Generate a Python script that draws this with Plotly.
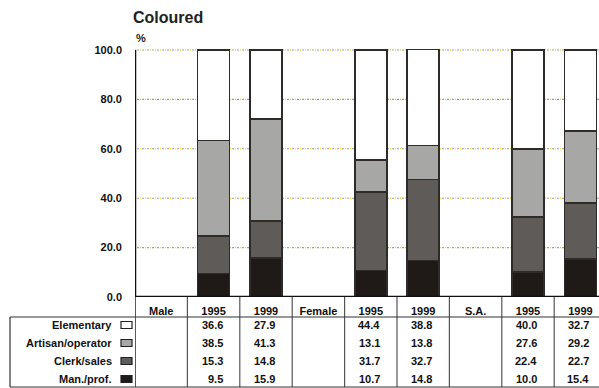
import plotly.graph_objects as go

# ---------------- data ----------------
categories = ["Male", "1995", "1999", "Female", "1995", "1999", "S.A.", "1995", "1999"]
bar_positions = [1, 2, 4, 5, 7, 8]          # category slots that hold a bar
series_names = ["Elementary", "Artisan/operator", "Clerk/sales", "Man./prof."]
elementary = [36.6, 27.9, 44.4, 38.8, 40.0, 32.7]
artisan = [38.5, 41.3, 13.1, 13.8, 27.6, 29.2]
clerk = [15.3, 14.8, 31.7, 32.7, 22.4, 22.7]
manprof = [9.5, 15.9, 10.7, 14.8, 10.0, 15.4]
y_ticks = [0, 20, 40, 60, 80, 100]
y_ticktext = ["0.0", "20.0", "40.0", "60.0", "80.0", "100.0"]

series_values = [elementary, artisan, clerk, manprof]
series_colors = ["#FFFFFF", "#A7A7A5", "#5F5B59", "#1F1A17"]

FONT = "Liberation Sans, Arial, sans-serif"
EDGE = "#2E2B29"

# ---------------- geometry helpers (pixels -> paper) ----------------
W, H = 599, 388
ML, MR, MT, MB = 135, 0, 45, 91
PW = W - ML - MR
PH = H - MT - MB
BOTTOM = H - MB


def px(xpix):
    return (xpix - ML) / PW


def py(ypix):
    return (BOTTOM - ypix) / PH


fig = go.Figure()

# stacked bars, bottom series first
for name, vals, col in reversed(list(zip(series_names, series_values, series_colors))):
    fig.add_trace(go.Bar(
        x=bar_positions, y=vals, name=name, width=0.61,
        marker=dict(color=col, line=dict(color=EDGE, width=1.6)),
        showlegend=False, hoverinfo="skip",
    ))

x_right = -0.5 + PW / 52.4

shapes = []
# grid lines (yellow dots + gray dashes), drawn beneath bars
for v in y_ticks[1:]:
    shapes.append(dict(type="line", xref="x", yref="y", x0=-0.5, x1=x_right, y0=v, y1=v,
                       layer="below", line=dict(color="#F2D400", width=1.2, dash="1px,4px")))
    shapes.append(dict(type="line", xref="x", yref="y", x0=-0.5, x1=x_right, y0=v, y1=v,
                       layer="below", line=dict(color="#A0A0A0", width=1.1, dash="0px,2px,2px,1px")))

# axes
shapes.append(dict(type="line", xref="x", yref="y", x0=-0.5, x1=-0.5, y0=0, y1=100,
                   line=dict(color="#111111", width=2.5)))
shapes.append(dict(type="line", xref="x", yref="y", x0=-0.5, x1=x_right, y0=0, y1=0,
                   line=dict(color="#111111", width=2.5)))

# table lines
tbl_left = px(10)
y_top_row = py(317)
y_bottom = py(387)
for i in range(len(categories) + 1):
    xb = i - 0.5
    shapes.append(dict(type="line", xref="x", yref="paper", x0=xb, x1=xb, y0=0, y1=y_bottom,
                       line=dict(color="#222222" if i == 0 else "#555555", width=1.5 if i == 0 else 1.2)))
for yy in (y_top_row, y_bottom):
    shapes.append(dict(type="line", xref="paper", yref="paper", x0=tbl_left, x1=1, y0=yy, y1=yy,
                       line=dict(color="#333333", width=1.2)))
shapes.append(dict(type="line", xref="paper", yref="paper", x0=tbl_left, x1=tbl_left,
                   y0=y_top_row, y1=y_bottom, line=dict(color="#333333", width=1.2)))

row_centers = [325, 343, 361, 379]
annotations = []
for name, vals, col, yc in zip(series_names, series_values, series_colors, row_centers):
    annotations.append(dict(xref="paper", yref="paper", x=px(114), y=py(yc), text=name,
                            xanchor="right", yanchor="middle", showarrow=False,
                            font=dict(family=FONT, size=11, color="#111111", weight="bold")))
    shapes.append(dict(type="rect", xref="paper", yref="paper", x0=px(121), x1=px(132),
                       y0=py(yc + 3.5), y1=py(yc - 3.5), fillcolor=col,
                       line=dict(color="#222222", width=1.2)))
    for pos, v in zip(bar_positions, vals):
        annotations.append(dict(xref="x", yref="paper", x=pos, xshift=11, y=py(yc),
                                text=f"{v:.1f}", xanchor="right", yanchor="middle", showarrow=False,
                                font=dict(family=FONT, size=11, color="#111111", weight="bold")))

annotations.append(dict(xref="paper", yref="paper", x=px(131), y=py(18), text="Coloured",
                        xanchor="left", yanchor="middle", showarrow=False,
                        font=dict(family=FONT, size=16, color="#222222", weight="bold")))
annotations.append(dict(xref="paper", yref="paper", x=px(134), y=py(38), text="%",
                        xanchor="left", yanchor="middle", showarrow=False,
                        font=dict(family=FONT, size=11, color="#222222", weight="bold")))

fig.update_layout(
    width=W, height=H,
    margin=dict(l=ML, r=MR, t=MT, b=MB, pad=0),
    paper_bgcolor="white", plot_bgcolor="white",
    barmode="stack", bargap=0,
    shapes=shapes, annotations=annotations,
    xaxis=dict(range=[-0.5, x_right], tickvals=list(range(len(categories))), ticktext=categories,
               showgrid=False, zeroline=False, showline=False, ticks="", fixedrange=True,
               tickfont=dict(family=FONT, size=11, color="#111111", weight="bold"),
               ticklabelstandoff=6),
    yaxis=dict(range=[0, 102], tickvals=y_ticks, ticktext=y_ticktext,
               showgrid=False, zeroline=False, showline=False, ticks="", fixedrange=True,
               tickfont=dict(family=FONT, size=11, color="#111111", weight="bold"),
               ticklabelstandoff=12),
)

fig.write_html(
    "out.html",
    config={"displayModeBar": False, "staticPlot": True},
    post_script="document.body.style.margin='0';document.body.style.overflow='hidden';",
)
